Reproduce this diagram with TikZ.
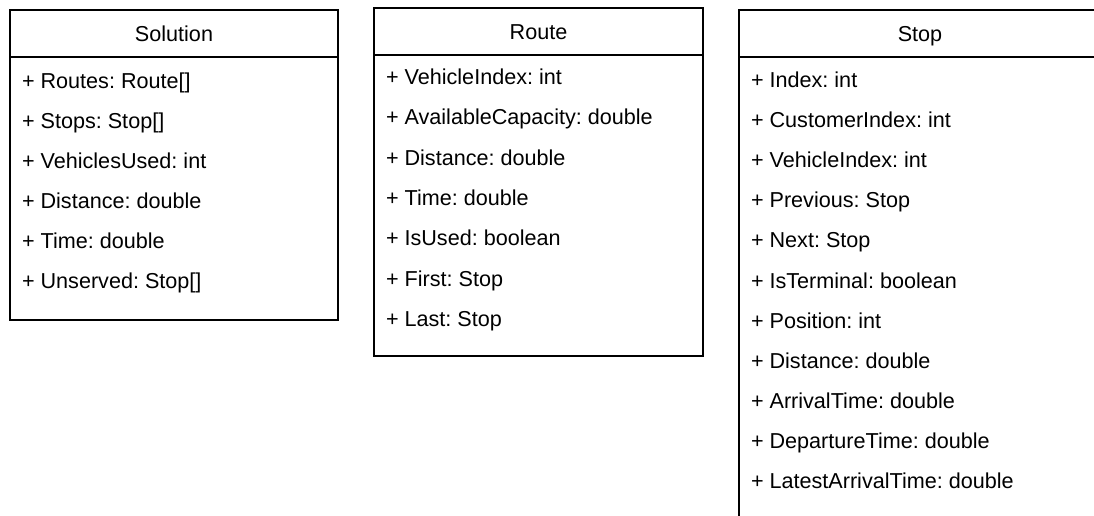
\documentclass[tikz,border=0pt]{standalone}
\usepackage{fontspec}
\setmainfont{Liberation Sans}
\usepackage{tikz}
\frenchspacing

\tikzset{
  title/.style={anchor=base,inner sep=0pt},
  attr/.style={anchor=base west,inner sep=0pt}
}

\begin{document}
\begin{tikzpicture}[x=0.5pt,y=-0.5pt,line width=1pt,
    every node/.style={font=\fontsize{10.8}{12}\selectfont}]
        \clip (0,0) rectangle (1094,515);
        % Solution
        \draw (10,10) rectangle (338,320);
        \draw (10,57) -- (338,57);
        \node[title] (sol) at (174,41.5) {Solution};
        \foreach \t [count=\i from 0] in {Routes: Route[], Stops: Stop[], VehiclesUsed: int,
            Distance: double, Time: double, Unserved: Stop[]}
          \node[attr] (sol\i) at (21,88.5+40*\i) {+ \t};
        % Route
        \draw (374,8) rectangle (703,356);
        \draw (374,55) -- (703,55);
        \node[title] (route) at (538.5,39.5) {Route};
        \foreach \t [count=\i from 0] in {VehicleIndex: int, AvailableCapacity: double,
            Distance: double, Time: double, IsUsed: boolean, First: Stop, Last: Stop}
          \node[attr] (route\i) at (385,84.5+40.3*\i) {+ \t};
        % Stop
        \draw (739,10) rectangle (1101,540);
        \draw (739,57) -- (1101,57);
        \node[title] (stop) at (920,41.5) {Stop};
        \foreach \t [count=\i from 0] in {Index: int, CustomerIndex: int, VehicleIndex: int,
            Previous: Stop, Next: Stop, IsTerminal: boolean, Position: int, Distance: double,
            ArrivalTime: double, DepartureTime: double, LatestArrivalTime: double}
          \node[attr] (stop\i) at (750,87.5+40.1*\i) {+ \t};
      \end{tikzpicture}
\end{document}
